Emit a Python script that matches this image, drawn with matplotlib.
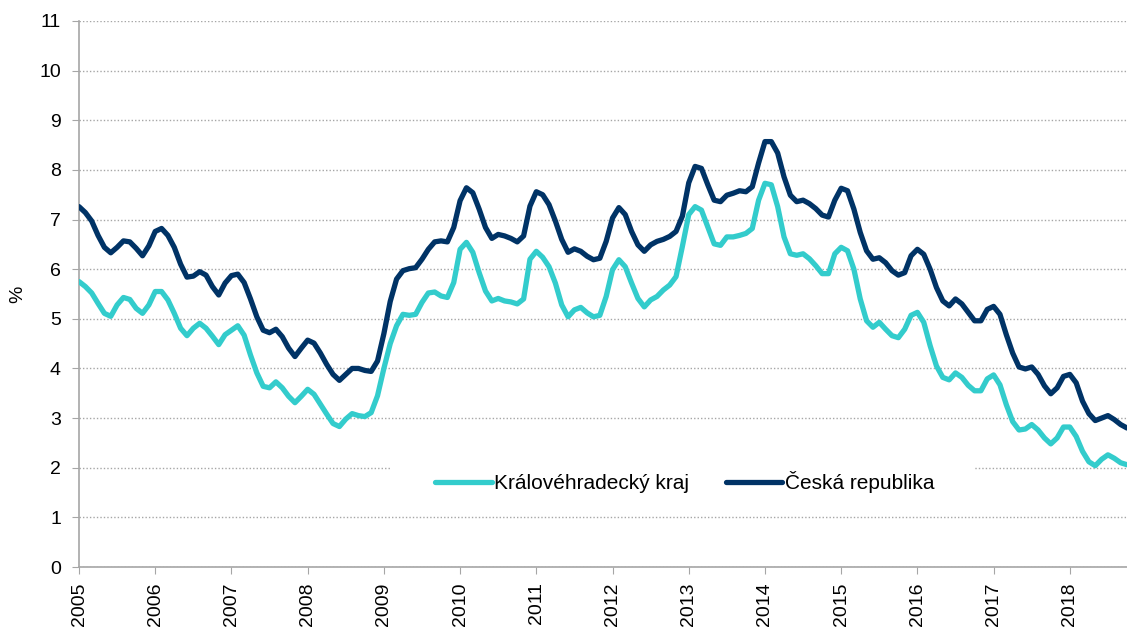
import numpy as np
import matplotlib
matplotlib.use("Agg")
import matplotlib.pyplot as plt
from matplotlib.patches import Rectangle

plt.rcParams['font.family'] = ['Liberation Sans', 'DejaVu Sans']

# monthly values, Jan 2005 .. Oct 2018
kh_kraj = [
    5.75, 5.65, 5.52, 5.31, 5.11, 5.05, 5.28, 5.43, 5.39, 5.21, 5.11, 5.28,  # 2005
    5.55, 5.55, 5.38, 5.11, 4.81, 4.66, 4.81, 4.91, 4.81, 4.65, 4.48, 4.68,  # 2006
    4.77, 4.86, 4.67, 4.27, 3.91, 3.64, 3.61, 3.73, 3.61, 3.44, 3.31, 3.44,  # 2007
    3.58, 3.48, 3.28, 3.08, 2.89, 2.83, 2.98, 3.09, 3.05, 3.03, 3.11, 3.45,  # 2008
    4.00, 4.50, 4.86, 5.09, 5.07, 5.09, 5.33, 5.52, 5.54, 5.46, 5.43, 5.73,  # 2009
    6.40, 6.54, 6.34, 5.93, 5.56, 5.36, 5.41, 5.36, 5.34, 5.30, 5.40, 6.20,  # 2010
    6.36, 6.24, 6.05, 5.72, 5.28, 5.04, 5.18, 5.23, 5.12, 5.04, 5.07, 5.45,  # 2011
    5.99, 6.19, 6.05, 5.72, 5.41, 5.24, 5.38, 5.45, 5.58, 5.68, 5.85, 6.46,  # 2012
    7.10, 7.26, 7.19, 6.85, 6.51, 6.48, 6.65, 6.65, 6.68, 6.72, 6.82, 7.39,  # 2013
    7.73, 7.70, 7.26, 6.65, 6.31, 6.28, 6.31, 6.21, 6.07, 5.91, 5.91, 6.31,  # 2014
    6.44, 6.37, 6.00, 5.40, 4.96, 4.83, 4.93, 4.79, 4.66, 4.62, 4.79, 5.07,  # 2015
    5.13, 4.93, 4.46, 4.05, 3.82, 3.77, 3.91, 3.82, 3.66, 3.55, 3.55, 3.79,  # 2016
    3.87, 3.67, 3.27, 2.93, 2.76, 2.78, 2.87, 2.76, 2.60, 2.48, 2.60, 2.82,  # 2017
    2.82, 2.63, 2.33, 2.12, 2.04, 2.17, 2.26, 2.19, 2.10, 2.06,              # 2018
]
cr = [
    7.26, 7.14, 6.97, 6.68, 6.44, 6.33, 6.44, 6.57, 6.55, 6.42, 6.27, 6.47,  # 2005
    6.76, 6.82, 6.68, 6.44, 6.10, 5.84, 5.86, 5.95, 5.88, 5.65, 5.48, 5.72,  # 2006
    5.87, 5.90, 5.73, 5.40, 5.04, 4.77, 4.72, 4.79, 4.64, 4.41, 4.24, 4.41,  # 2007
    4.57, 4.51, 4.31, 4.08, 3.88, 3.76, 3.88, 4.00, 4.00, 3.96, 3.94, 4.15,  # 2008
    4.70, 5.35, 5.80, 5.97, 6.01, 6.03, 6.20, 6.40, 6.55, 6.57, 6.55, 6.84,  # 2009
    7.38, 7.64, 7.54, 7.21, 6.84, 6.62, 6.70, 6.67, 6.62, 6.55, 6.67, 7.27,  # 2010
    7.56, 7.50, 7.30, 6.97, 6.60, 6.34, 6.41, 6.36, 6.26, 6.19, 6.22, 6.56,  # 2011
    7.03, 7.24, 7.10, 6.76, 6.49, 6.36, 6.49, 6.56, 6.60, 6.66, 6.76, 7.07,  # 2012
    7.74, 8.07, 8.03, 7.70, 7.39, 7.36, 7.49, 7.53, 7.58, 7.56, 7.66, 8.14,  # 2013
    8.57, 8.57, 8.34, 7.86, 7.49, 7.36, 7.39, 7.32, 7.22, 7.09, 7.05, 7.39,  # 2014
    7.63, 7.58, 7.21, 6.74, 6.37, 6.20, 6.23, 6.13, 5.97, 5.88, 5.93, 6.27,  # 2015
    6.40, 6.30, 6.00, 5.63, 5.36, 5.26, 5.40, 5.30, 5.13, 4.96, 4.96, 5.19,  # 2016
    5.25, 5.09, 4.68, 4.31, 4.03, 3.99, 4.03, 3.88, 3.65, 3.49, 3.61, 3.84,  # 2017
    3.88, 3.71, 3.34, 3.09, 2.95, 3.00, 3.05, 2.97, 2.87, 2.80,              # 2018
]
years = list(range(2005, 2019))
labels = ["Královéhradecký kraj", "Česká republika"]

x = 2005 + np.arange(len(cr)) / 12

fig = plt.figure(figsize=(11.27, 6.3), dpi=100)
ax = fig.add_axes([0.0701, 0.1, 0.9299, 0.8667])

ax.plot(x, kh_kraj, color='#33CCCC', lw=3.8, solid_joinstyle='round',
        solid_capstyle='round', label=labels[0], zorder=3)
ax.plot(x, cr, color='#003366', lw=3.8, solid_joinstyle='round',
        solid_capstyle='round', label=labels[1], zorder=3)

ax.set_xlim(2005, x[-1])
ax.set_ylim(0, 11)
ax.set_yticks(range(0, 12))
ax.set_xticks(years)
ax.set_xticklabels([str(y) for y in years], rotation=90)

ax.set_axisbelow(True)
ax.yaxis.grid(True, color='#a6a6a6', lw=1.0, linestyle=(0, (1, 1.5)))
for s in ['top', 'right']:
    ax.spines[s].set_visible(False)
for s in ['left', 'bottom']:
    ax.spines[s].set_color('#a6a6a6')
    ax.spines[s].set_linewidth(1.2)
ax.tick_params(axis='y', length=5, color='#a6a6a6', pad=8, labelsize=14)
ax.tick_params(axis='x', length=5, color='#a6a6a6', pad=6, labelsize=14)
ax.set_ylabel("%", fontsize=14)
ax.yaxis.set_label_coords(-0.05, 0.5)

# white box behind legend (hides the gridline like the original)
ax.add_patch(Rectangle((0.297, 0.104), 0.558, 0.1, transform=ax.transAxes,
                       facecolor='white', edgecolor='none', zorder=1))
ax.legend(loc='center', bbox_to_anchor=(0.578, 0.156), ncol=2, frameon=False,
          fontsize=15, handlelength=2.7, handletextpad=0.1,
          columnspacing=1.8)

fig.savefig("out.png", dpi=100)
